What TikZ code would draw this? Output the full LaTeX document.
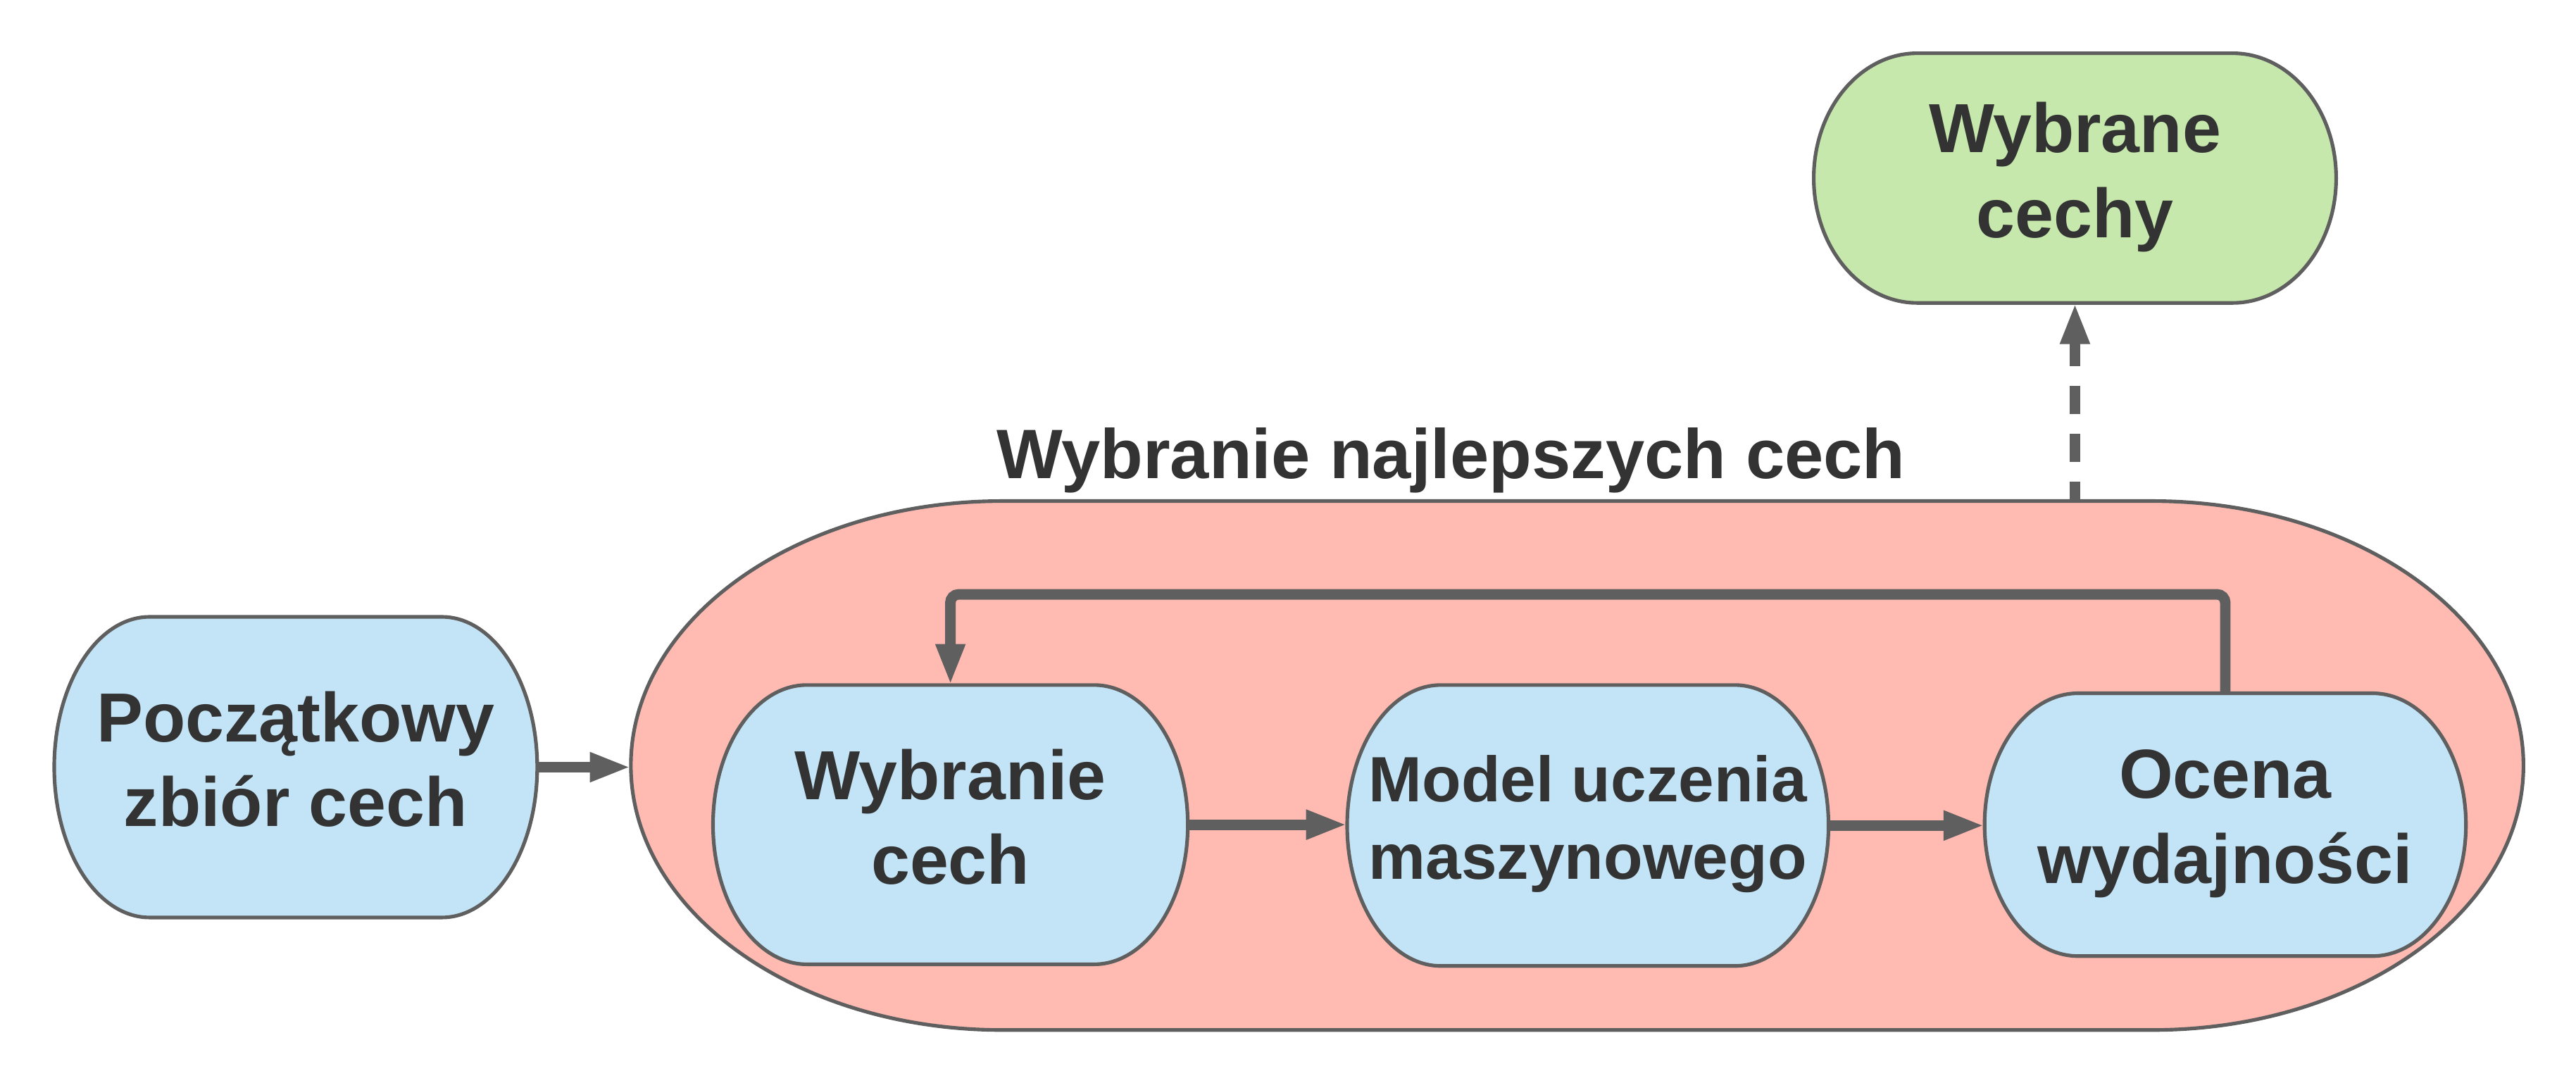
\documentclass[tikz,border=0pt]{standalone}
\usepackage{fontspec}
\setmainfont{Liberation Sans}
\usetikzlibrary{arrows.meta,calc}
\definecolor{bord}{HTML}{5F5F5F}
\definecolor{txt}{HTML}{333333}
\definecolor{bluef}{HTML}{C2E4F6}
\definecolor{pinkf}{HTML}{FFBAB2}
\definecolor{greenf}{HTML}{C7E8AC}
\pgfdeclarelayer{back}
\pgfdeclarelayer{mid}
\pgfsetlayers{back,mid,main}
\newcommand\elshape[3]{%
 \path[draw=bord, line width=2.2pt, fill=#3] let \p1=(#1.north east), \p2=(#1.south west), \n1={(\y1-\y2)/2} in
 (\x2+#2pt,\y1) -- (\x1-#2pt,\y1) arc[start angle=90,end angle=-90,x radius=#2pt,y radius=\n1]
 -- (\x2+#2pt,\y2) arc[start angle=270,end angle=90,x radius=#2pt,y radius=\n1] -- cycle;}
\newcommand\lastdepth{\rule[-10pt]{0pt}{10pt}}
\tikzset{
  box/.style={rectangle, draw=none, inner sep=0pt, outer sep=0pt, align=center, text=txt,
    font=\fontsize{42.3}{51.5}\selectfont\bfseries},
  conn/.style={draw=bord, line width=6.4pt, -{Triangle[length=25pt,width=16.5pt]}},
}
\begin{document}
\begin{tikzpicture}[x=1pt,y=1pt]
\useasboundingbox (0,0) rectangle (1568,-659);
\node[box, minimum width=294pt, minimum height=183pt] (pocz) at (180,-467) {Początkowy\\zbiór cech\lastdepth};
\node[box, minimum width=1152pt, minimum height=322pt] (pink) at (960,-466) {};
\node[box, minimum width=318pt, minimum height=152pt] (green) at (1263,-108.4) {Wybrane\\cechy\lastdepth};
\node[box, minimum width=289pt, minimum height=170pt] (wyb) at (578.5,-502) {Wybranie\\cech\lastdepth};
\node[box, minimum width=293pt, minimum height=171pt, font=\fontsize{39}{47}\selectfont\bfseries] (model) at (966.5,-502.5) {Model uczenia\\maszynowego\lastdepth};
\node[box, minimum width=293pt, minimum height=160pt] (ocena) at (1354.5,-502) {Ocena\\wydajności\lastdepth};
\node[box, anchor=base, font=\fontsize{42.6}{51}\selectfont\bfseries] (title) at (883.2,-291.2) {Wybranie najlepszych cech};
\coordinate (fb) at (0,-361.8);
\begin{pgfonlayer}{back}
 \elshape{pink}{226}{pinkf}
\end{pgfonlayer}
\begin{pgfonlayer}{mid}
 \elshape{pocz}{58}{bluef}
 \elshape{green}{63}{greenf}
 \elshape{wyb}{57}{bluef}
 \elshape{model}{57}{bluef}
 \elshape{ocena}{57}{bluef}
\end{pgfonlayer}
\draw[conn] (pocz.east) -- (pocz.east -| pink.west);
\draw[conn] (wyb.east) -- (wyb.east -| model.west);
\draw[conn] (model.east) -- (model.east -| ocena.west);
\draw[conn, rounded corners=5pt] (ocena.north) -- (ocena.north |- fb) -- (wyb.north |- fb) -- (wyb.north);
\draw[conn, dash pattern=on 17pt off 12pt, dash phase=5pt] (pink.north -| green.south) -- (green.south);
\end{tikzpicture}
\end{document}
